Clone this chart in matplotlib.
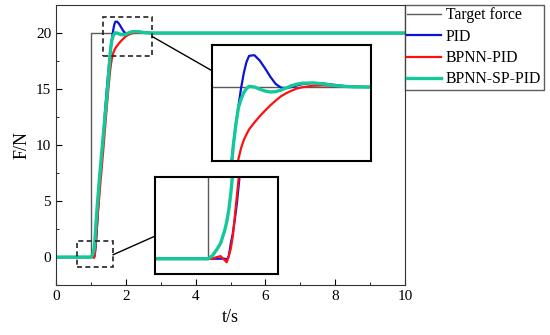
import matplotlib
matplotlib.use("Agg")
import matplotlib.pyplot as plt
from matplotlib.patches import Rectangle, ConnectionPatch
from matplotlib.ticker import MultipleLocator

plt.rcParams['font.family'] = ['Liberation Serif', 'DejaVu Serif']

# time axis (s) and force values (N)
t = [0, 0.99, 1.0, 1.02, 1.04, 1.06, 1.08, 1.09, 1.1, 1.11, 1.12, 1.13, 1.14,
     1.15, 1.16, 1.18, 1.2, 1.25, 1.3, 1.35, 1.4, 1.45, 1.5, 1.55, 1.575, 1.6,
     1.625, 1.65, 1.675, 1.7, 1.75, 1.8, 1.85, 1.9, 1.95, 2.0, 2.05, 2.1, 2.15,
     2.2, 2.3, 2.4, 2.5, 2.6, 2.7, 2.8, 3.0, 10]

pid = [0, 0, 0, 0, 0, 0, 0, -0.02, 0.05, 0.3, 0.5, 0.78, 1.1,
       1.5, 1.95, 3.0, 4.0, 6.5, 8.7, 10.6, 12.8, 14.8, 16.6, 18.1, 18.8, 19.4,
       19.98, 20.45, 20.8, 21.0, 21.02, 20.85, 20.6, 20.33, 20.1, 19.98, 19.96, 20.0, 20.05,
       20.09, 20.13, 20.11, 20.07, 20.03, 20.01, 20.0, 20.0, 20.0]

bpnn_pid = [0, 0, 0, 0.0, 0.03, 0.05, -0.03, -0.07, 0.05, 0.2, 0.45, 0.85, 1.25,
            1.65, 2.1, 3.0, 3.9, 5.8, 7.6, 9.4, 11.3, 13.2, 15.0, 16.6, 17.2, 17.7,
            18.05, 18.3, 18.48, 18.64, 18.86, 19.06, 19.24, 19.41, 19.56, 19.7, 19.8, 19.88, 19.95,
            19.99, 20.04, 20.05, 20.04, 20.02, 20.01, 20.0, 20.0, 20.0]

bpnn_sp_pid = [0, 0, 0, 0.06, 0.17, 0.3, 0.55, 0.72, 0.95, 1.28, 1.7, 2.2, 2.7,
               3.15, 3.6, 4.5, 5.3, 7.2, 9.0, 10.7, 12.4, 14.1, 16.0, 18.1, 18.8, 19.35,
               19.62, 19.82, 19.95, 20.02, 20.0, 19.93, 19.87, 19.84, 19.85, 19.9, 19.97, 20.04, 20.09,
               20.12, 20.13, 20.1, 20.05, 20.02, 20.0, 20.0, 20.0, 20.0]

target_t = [0, 1, 1, 10]
target_f = [0, 0, 20, 20]

labels = ['Target force', 'PID', 'BPNN-PID', 'BPNN-SP-PID']
colors = ['#5a5a5a', '#0a14d2', '#ff1010', '#12c99a']
widths = [1.0, 1.6, 1.6, 2.4]


def draw_lines(ax):
    ax.plot(target_t, target_f, color=colors[0], lw=widths[0], label=labels[0])
    ax.plot(t, pid, color=colors[1], lw=widths[1], label=labels[1])
    ax.plot(t, bpnn_pid, color=colors[2], lw=widths[2], label=labels[2])
    ax.plot(t, bpnn_sp_pid, color=colors[3], lw=widths[3], label=labels[3])


fig = plt.figure(figsize=(5.5, 3.35), dpi=100)
ax = fig.add_axes([0.1018, 0.149, 0.6346, 0.836])
draw_lines(ax)
ax.set_xlim(0, 10)
ax.set_ylim(-2.5, 22.5)
ax.xaxis.set_major_locator(MultipleLocator(2))
ax.xaxis.set_minor_locator(MultipleLocator(1))
ax.yaxis.set_major_locator(MultipleLocator(5))
ax.yaxis.set_minor_locator(MultipleLocator(2.5))
ax.tick_params(which='both', direction='in', labelsize=11)
ax.tick_params(which='major', length=4)
ax.tick_params(which='minor', length=2.5)
ax.set_xlabel('t/s', fontsize=13)
ax.set_ylabel('F/N', fontsize=13)
for s in ax.spines.values():
    s.set_color('#333333')

leg = ax.legend(loc='upper left', bbox_to_anchor=(1.0, 1.0), borderaxespad=0,
                fancybox=False, edgecolor='#333333', fontsize=11.3,
                handlelength=2.15, handletextpad=0.3, borderpad=0.15,
                labelspacing=0.34)
leg.get_frame().set_linewidth(1.0)

# zoom boxes on the main axes
box1 = (1.35, 17.95, 1.4, 3.5)
box2 = (0.6, -0.9, 1.03, 2.33)
for b in (box1, box2):
    ax.add_patch(Rectangle((b[0], b[1]), b[2], b[3], fill=False,
                           ls=(0, (3, 2)), lw=1.2, ec='#222222', zorder=5))

# inset 1: overshoot region
ins1 = fig.add_axes([0.3855, 0.519, 0.289, 0.346])
draw_lines(ins1)
ins1.set_xlim(1.35, 2.85)
ins1.set_ylim(17.62, 21.34)

# inset 2: start of the rise
ins2 = fig.add_axes([0.2818, 0.182, 0.2236, 0.29])
draw_lines(ins2)
ins2.set_xlim(0.74, 1.34)
ins2.set_ylim(-0.3, 1.6)

for ins in (ins1, ins2):
    ins.set_xticks([])
    ins.set_yticks([])
    for s in ins.spines.values():
        s.set_linewidth(1.5)
        s.set_color('black')

con1 = ConnectionPatch(xyA=(2.75, 19.7), coordsA=ax.transData,
                       xyB=(0.0, 0.78), coordsB=ins1.transAxes,
                       color='black', lw=1.0)
con2 = ConnectionPatch(xyA=(1.63, 0.2), coordsA=ax.transData,
                       xyB=(0.0, 0.39), coordsB=ins2.transAxes,
                       color='black', lw=1.0)
fig.add_artist(con1)
fig.add_artist(con2)

fig.savefig('out.png', dpi=100)
